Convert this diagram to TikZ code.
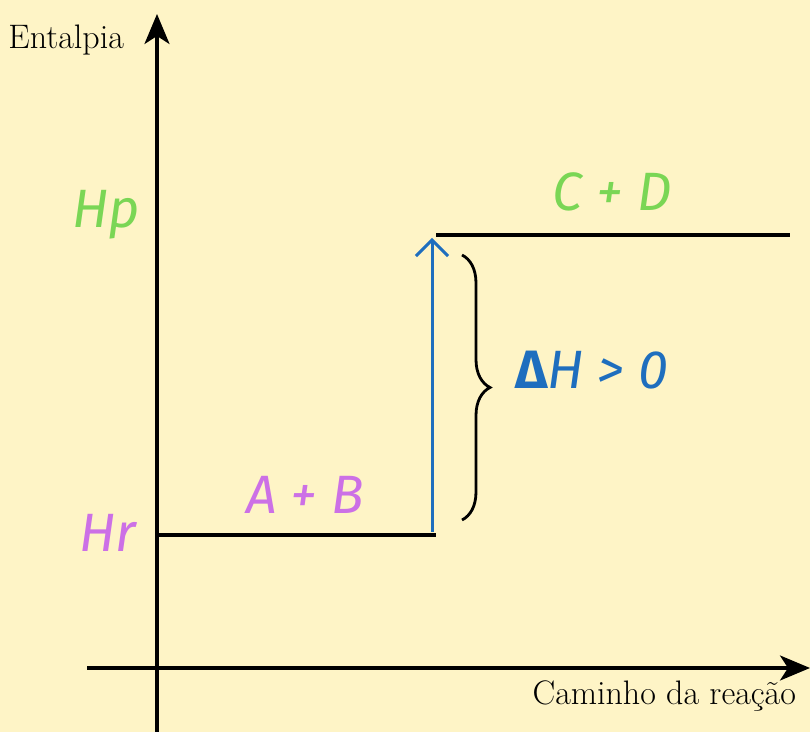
\documentclass[tikz,border=0pt]{standalone}
\usepackage{fontspec}
\newfontfamily\handfont{Fira Sans}
\usetikzlibrary{arrows.meta,decorations.pathreplacing,positioning}
\definecolor{paper}{HTML}{FEF4C6}
\definecolor{hpgreen}{HTML}{7AD655}
\definecolor{hrpurple}{HTML}{CC70E6}
\definecolor{dhblue}{HTML}{1E6EBE}

\begin{document}
\begin{tikzpicture}[
  x=0.5pt, y=-0.5pt,
  axis/.style={line width=1.6pt, -{Stealth[length=15pt,width=12.5pt,inset=4pt]}},
  level/.style={line width=1.6pt},
  rise/.style={dhblue, line width=1.5pt, -{Straight Barb[length=8pt,width=16pt,line width=1.5pt]}},
  brace/.style={line width=1.4pt, decorate, decoration={brace, amplitude=14pt}},
  hand/.style={font=\handfont\itshape\fontsize{27}{30}\selectfont},
  serif/.style={font=\fontsize{17}{20}\selectfont}
]
  \fill[paper] (0,0) rectangle (810,732);
  \useasboundingbox (0,0) rectangle (810,732);
  % axes
  \coordinate (ybot) at (157,732);
  \coordinate (ytop) at (157,14);
  \coordinate (xleft) at (87,668);
  \coordinate (xright) at (810,668);
  \draw[axis] (ybot) -- (ytop);
  \draw[axis] (xleft) -- (xright);
  \node[serif, anchor=east] (ylabel) at (131,40) {Entalpia};
  \node[serif, anchor=east] (xlabel) at (803,696) {Caminho da reação};
  % enthalpy levels
  \coordinate (hr0) at (157,535);
  \coordinate (hr1) at (436,535);
  \coordinate (hp0) at (436,235);
  \coordinate (hp1) at (790,235);
  \draw[level] (hr0) -- (hr1);
  \draw[level] (hp0) -- (hp1);
  \node[hand, hrpurple] (hr) at (108,533) {Hr};
  \node[hand, hpgreen] (hp) at (106,215) {Hp};
  \node[hand, hrpurple] (reag) at (305,495) {A + B};
  \node[hand, hpgreen] (prod) at (612,192) {C + D};
  % variation
  \coordinate (rise0) at (432,532);
  \coordinate (rise1) at (432,238);
  \draw[rise] (rise0) -- (rise1);
  \coordinate (btop) at (462,255);
  \coordinate (bbot) at (462,520);
  \draw[brace] (btop) -- (bbot);
  \node[hand, dhblue, anchor=west] (dh) at (508,370) {{\bfseries\upshape Δ}H > 0};
\end{tikzpicture}
\end{document}
